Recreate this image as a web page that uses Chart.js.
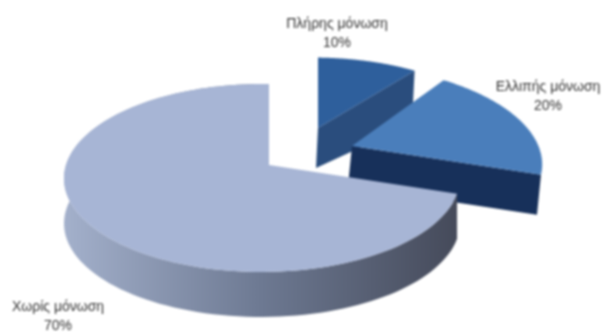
<!DOCTYPE html>
<html>
<head>
<meta charset="utf-8">
<style>
  html, body { margin: 0; padding: 0; background: #fff; }
  #wrap { width: 604px; height: 332px; }
  canvas { filter: blur(0.9px); }
</style>
<script src="https://cdn.jsdelivr.net/npm/chart.js@4"></script>
</head>
<body>
<div id="wrap"><canvas id="chart-1"></canvas></div>
<script>
// Values, clockwise from 12 o'clock
const categories = ['Πλήρης μόνωση', 'Ελλιπής μόνωση', 'Χωρίς μόνωση'];
const percentages = [10, 20, 70];
const topColors = ['#2e5f9c', '#4a7ebb', '#a7b5d5'];

// Where each exploded slice sits, how squashed it is and how thick it is
const sliceViews = [
    { dx: 16, dy: -38, squash: 0.87, narrow: 0.95, shear: 0, lean: 0.05, apexDepth: 40, rimDepth: 53, textX: 337, textY: 24 },
    { dx: 50, dy: -20, squash: 1, narrow: 0.985, shear: -12, lean: 0.1, apexDepth: 40, rimDepth: 40, textX: 548, textY: 87 },
    { dx: -33, dy: -1, squash: 1, narrow: 1, shear: 0, lean: 0, apexDepth: 45, rimDepth: 45, textX: 58, textY: 307 }
];

// Fake perspective for the tilted pie
const tilt = 0.138;
const sideTilt = 0.035;

function project(arc, view, angle, radius, depth) {
    const theta = angle + Math.PI / 2;
    const u = radius * Math.sin(theta);
    const v = radius * Math.cos(theta);
    const d = 1 + tilt * v + sideTilt * u;
    return {
        x: arc.x + view.dx + (arc.outerRadius * 1.18 * view.narrow * u + view.shear * v) / d - view.lean * depth,
        y: arc.y + view.dy - arc.outerRadius * 0.555 * view.squash * v / d + depth
    };
}

function fillPoints(ctx, points, fill) {
    ctx.beginPath();
    points.forEach((p, i) => i === 0 ? ctx.moveTo(p.x, p.y) : ctx.lineTo(p.x, p.y));
    ctx.closePath();
    ctx.fillStyle = fill;
    ctx.fill();
}

function rimPoints(arc, view, depth) {
    const points = [];
    for (let i = 0; i <= 120; i++) {
        const a = arc.startAngle + (arc.endAngle - arc.startAngle) * i / 120;
        points.push(project(arc, view, a, 1, depth));
    }
    return points;
}

function sideFill(ctx, index) {
    const g = ctx.createLinearGradient(65, 0, 457, 0);
    if (index === 2) {
        g.addColorStop(0, '#a3b0cb');
        g.addColorStop(0.5, '#6d7992');
        g.addColorStop(1, '#454a5a');
        return g;
    }
    return index === 0 ? '#2a4d7d' : '#17305a';
}

function drawSlice(ctx, arc, index) {
    const view = sliceViews[index];
    const top = rimPoints(arc, view, 0);
    const apex = project(arc, view, arc.startAngle, 0, 0);

    if (index === 2) {
        // outer wall of the big slice, the top face hides the back part
        const bottom = rimPoints(arc, view, view.rimDepth).reverse();
        fillPoints(ctx, top.concat(bottom), sideFill(ctx, index));
    } else {
        // only the cut face at the end angle can be seen
        const corner = project(arc, view, arc.endAngle, 1, 0);
        fillPoints(ctx, [
            apex, corner,
            project(arc, view, arc.endAngle, 1, view.rimDepth),
            project(arc, view, arc.endAngle, 0, view.apexDepth)
        ], sideFill(ctx, index));
    }
    fillPoints(ctx, [apex].concat(top), topColors[index]);
}

const pie3d = {
    id: 'pie3d',
    beforeDatasetDraw(chart, args) {
        // replaces the flat arcs with the tilted ones
        const ctx = chart.ctx;
        args.meta.data.forEach((arc, i) => drawSlice(ctx, arc, i));
        return false;
    },
    afterDraw(chart) {
        const ctx = chart.ctx;
        ctx.save();
        ctx.font = '14px "Liberation Sans"';
        ctx.fillStyle = '#333';
        ctx.textAlign = 'center';
        ctx.textBaseline = 'middle';
        categories.forEach((name, i) => {
            const view = sliceViews[i];
            ctx.fillText(name, view.textX, view.textY);
            ctx.fillText(percentages[i] + '%', view.textX, view.textY + 19);
        });
        ctx.restore();
    }
};

new Chart(document.getElementById('chart-1'), {
    type: 'pie',
    data: {
        labels: categories,
        datasets: [{ data: percentages, backgroundColor: topColors, borderWidth: 0 }]
    },
    options: {
        responsive: true,
        maintainAspectRatio: false,
        animation: false,
        plugins: { legend: { display: false }, tooltip: { enabled: false } }
    },
    plugins: [pie3d]
});
</script>
</body>
</html>
